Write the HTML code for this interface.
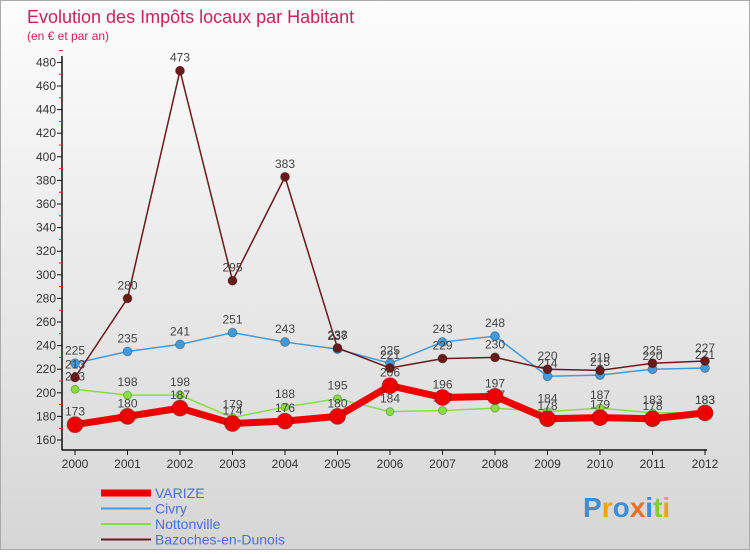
<!DOCTYPE html>
<html><head><meta charset="utf-8"><style>
body{margin:0;width:750px;height:550px;overflow:hidden;font-family:"Liberation Sans",sans-serif}
#wrap{position:relative;width:748px;height:548px;border:1px solid #aaa;background:linear-gradient(#fdfdfd,#d6d6d6)}
</style></head><body>
<div id="wrap">
<svg id="chart" width="748" height="548"></svg>
</div>
<script>
const years=["2000","2001","2002","2003","2004","2005","2006","2007","2008","2009","2010","2011","2012"];
const varize=[173,180,187,174,176,180,206,196,197,178,179,178,183];
const civry=[225,235,241,251,243,237,225,243,248,214,215,220,221];
const notton=[203,198,198,179,188,195,184,185,187,184,187,183,183];
const bazoches=[213,280,473,295,383,238,221,229,230,220,219,225,227];
const yTicks=[160,180,200,220,240,260,280,300,320,340,360,380,400,420,440,460,480];
const NS="http://www.w3.org/2000/svg";
const svg=document.getElementById('chart');
function X(i){return 74+i*52.5;}
function Y(v){return 439-(v-160)*1.18;}
function el(t,a,p){const e=document.createElementNS(NS,t);for(const k in a)e.setAttribute(k,a[k]);(p||svg).appendChild(e);return e;}
function tx(x,y,s,a){const e=el('text',Object.assign({x:x,y:y},a));e.textContent=s;return e;}
let t=tx(26,22,"Evolution des Impôts locaux par Habitant",{fill:"#c8245c","font-size":"18"});


t=tx(26,39,"(en € et par an)",{fill:"#c8245c","font-size":"12"});


// axes
let ax=el('line',{x1:61,y1:55,x2:61,y2:449,stroke:"#111","stroke-width":1.5});


ax=el('line',{x1:61,y1:449,x2:X(12)+2,y2:449,stroke:"#111","stroke-width":1.5});


yTicks.forEach(v=>{
 el('line',{x1:56,y1:Y(v),x2:61,y2:Y(v),stroke:"#111"});
 el('line',{x1:58,y1:Y(v+10),x2:62,y2:Y(v+10),stroke:"#e22"});
 const l=tx(55,Y(v)+4,String(v),{fill:"#333","font-size":"12","text-anchor":"end"});
 
 
});
years.forEach((y,i)=>{
 el('line',{x1:X(i),y1:449,x2:X(i),y2:454,stroke:"#111"});
 const l=tx(X(i),467,y,{fill:"#333","font-size":"12","text-anchor":"middle"});
 
 
});
function series(data,color,w,r,name,labelColor){
 const g=el('g',{});
 
 
 el('polyline',{points:data.map((v,i)=>X(i)+","+Y(v)).join(" "),fill:"none",stroke:color,"stroke-width":w,"stroke-linejoin":"round"},g);
 data.forEach((v,i)=>{
  const c=el('circle',{cx:X(i),cy:Y(v),r:r,fill:color,stroke:"rgba(0,0,0,0.25)"},g);
  
  
  const l=tx(X(i),Y(v)-9,String(v),{fill:"#444","font-size":"12","text-anchor":"middle"},g);
  
  
 });
}
series(notton,"#88dd44",1.5,4,"series-nottonville");
series(varize,"#ee0000",7,8,"series-varize");
series(civry,"#4499d8",1.5,4.5,"series-civry");
series(bazoches,"#6b1a1a",1.5,4.5,"series-bazoches");
// legend
const leg=[["VARIZE","#ee0000",7],["Civry","#4499d8",2],["Nottonville","#88dd44",2],["Bazoches-en-Dunois","#6b1a1a",2]];
leg.forEach((d,i)=>{
 const g=el('g',{});
 
 
 const y=492+i*15.5;
 el('line',{x1:100,y1:y,x2:150,y2:y,stroke:d[1],"stroke-width":d[2]},g);
 tx(154,y+5,d[0],{fill:"#4a6fd8","font-size":"14"},g);
});
const logo=tx(582,516,"",{ "font-size":"28","font-weight":"bold"});


[["P","#3a8fd8"],["r","#f0a020"],["o","#3a8fd8"],["x","#f07020"],["i","#3a8fd8"],["t","#88cc33"],["i","#f0a020"]].forEach(c=>{const s=el('tspan',{fill:c[1]},logo);s.textContent=c[0];});
</script>
</body></html>
